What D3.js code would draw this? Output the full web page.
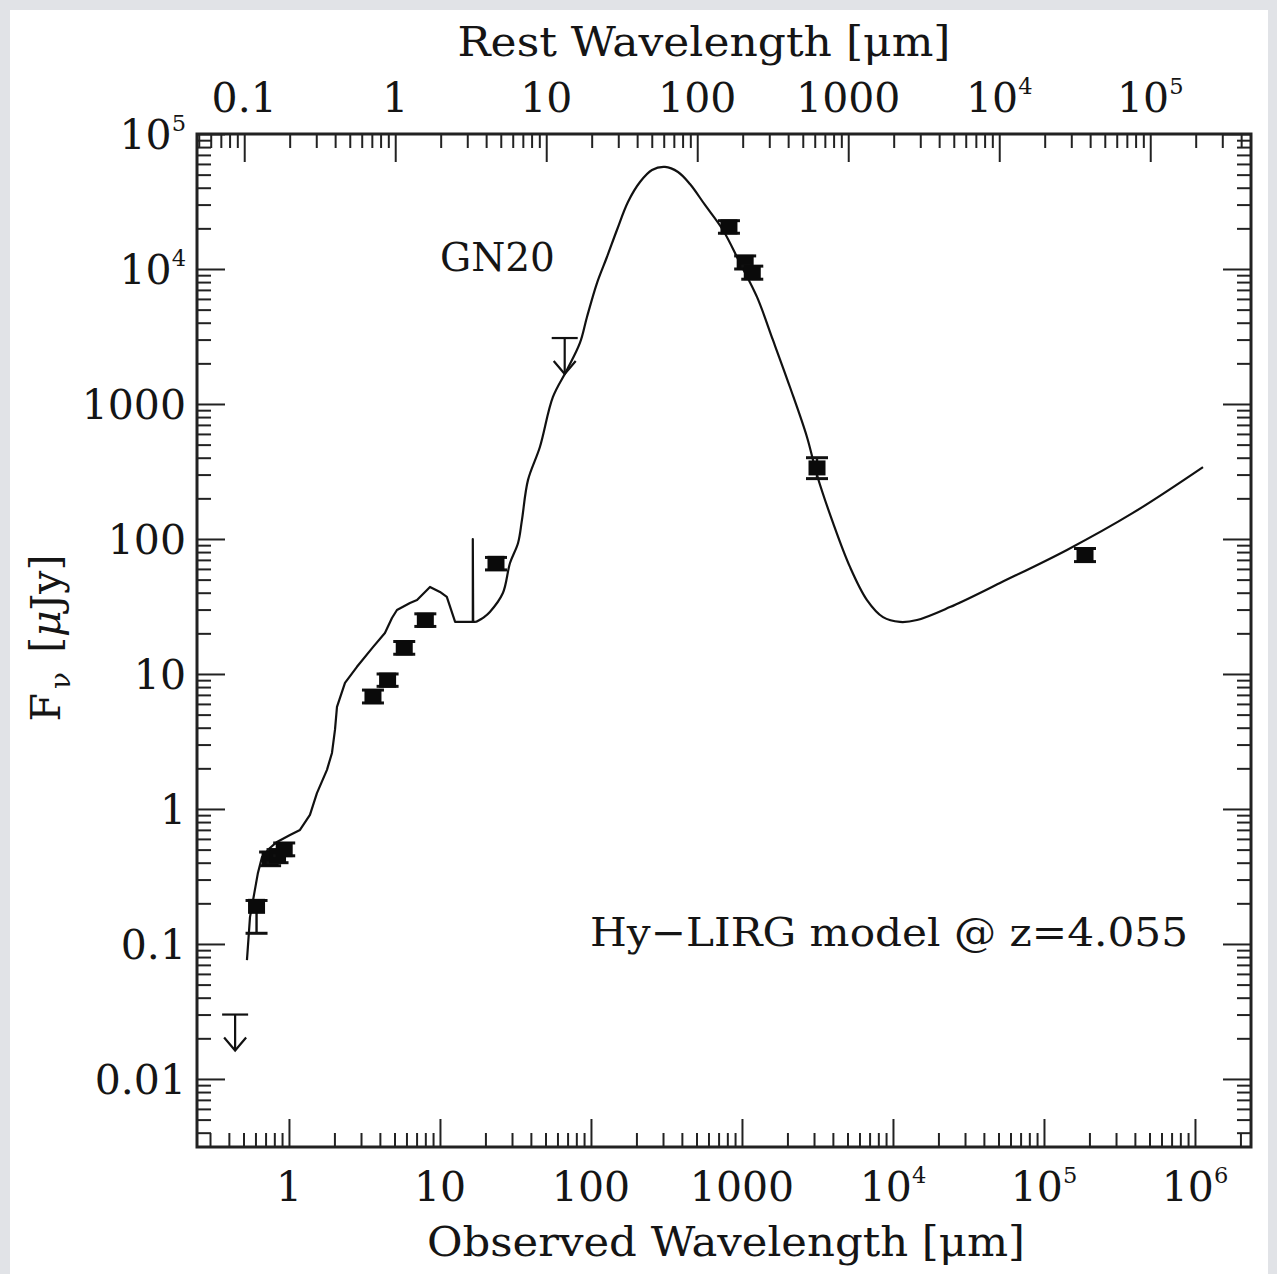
<!DOCTYPE html>
<html><head><meta charset="utf-8">
<script src="https://cdn.jsdelivr.net/npm/d3@7"></script>
<style>
html,body{margin:0;padding:0;background:#e1e3e7;}
svg{display:block;}
text{font-family:"DejaVu Serif",serif;fill:#151515;}
</style></head><body>
<svg id="chart" width="1277" height="1274"></svg>
<script>
// ---------------- data ----------------
const redshift = 4.055;

// Hy-LIRG model SED (observed wavelength [um], flux [uJy]) — stellar/PAH part (jagged)
const stellarWave = [0.527,0.552,0.623,0.663,0.748,0.833,1.016,1.183,1.377,1.532,1.785,1.927,2.017,2.08,2.35,2.82,3.60,4.32,4.81,5.19,6.33,7.05,8.59,10.0,11.1,12.6,15.8,16.5,16.5,16.6,17.3];
const stellarFlux = [0.076,0.158,0.336,0.441,0.514,0.570,0.642,0.699,0.903,1.31,1.95,2.60,3.85,5.70,8.58,11.3,15.8,20.1,26.0,29.8,33.6,35.3,44.1,40.5,37.2,24.3,24.3,24.3,100,24.3,24.3];
// dust + radio part (smooth)
const dustWave = [17.3,19.6,21.4,26.1,29.1,32.9,34.9,38.3,45.9,56.0,69.3,84.5,94.1,109.6,127.6,148.6,175.8,211.2,253.6,309.3,377,452.5,569,748,970,1257,1603,2078,2694,3139,4010,5190,6730,8590,11120,14420,23850,51150,1.42e5,3.88e5,1.13e6];
const dustFlux = [24.3,26.4,28.8,39.8,66.4,93.4,138,274,480,1127,1786,2831,4410,7870,12270,19450,31350,44060,54100,57000,52300,42600,29800,19450,11070,6210,2979,1336,570,298,131.5,62.1,35.3,26.4,24.3,25.1,31.3,47.2,83,156,341];

// photometry (detections)
const ptWave = [0.61, 0.75, 0.84, 0.93, 3.6, 4.5, 5.8, 8.0, 23.5, 820, 1050, 1170, 3140, 1.87e5];
const ptFlux = [0.19, 0.43, 0.45, 0.50, 6.8, 9.0, 15.6, 25, 66, 20500, 11200, 9400, 336, 76];
const ptLo   = [0.12, 0.38, 0.40, 0.45, 6.1, 8.1, 14.0, 22.5, 59, 18400, 10000, 8400, 280, 68];
const ptHi   = [0.21, 0.48, 0.50, 0.56, 7.6, 10.0, 17.4, 27.9, 73, 22800, 12500, 10500, 400, 85];

// upper limits
const limWave = [0.44, 67];
const limFlux = [0.030, 3080];

// ticks
const xTickValues = [1,10,100,1000,1e4,1e5,1e6];
const xTickLabels = ["1","10","100","1000","10^4","10^5","10^6"];
const topTickValues = [0.1,1,10,100,1000,1e4,1e5];
const topTickLabels = ["0.1","1","10","100","1000","10^4","10^5"];
const yTickValues = [0.01,0.1,1,10,100,1000,1e4,1e5];
const yTickLabels = ["0.01","0.1","1","10","100","1000","10^4","10^5"];

// ---------------- drawing ----------------
const svg = d3.select("#chart");
svg.append("rect").attr("x",10).attr("y",10).attr("width",1258).attr("height",1264).attr("fill","#fff");

const L=197, R=1251, T=134, B=1147;
const x = d3.scaleLog().domain([Math.pow(10,-0.609), Math.pow(10,6.371)]).range([L,R]);
const y = d3.scaleLog().domain([Math.pow(10,-2.504), 1e5]).range([B,T]);
const xr = d3.scaleLog().domain(x.domain().map(v=>v/(1+redshift))).range([L,R]);

function minors(scale){
  const [a,b] = scale.domain(); const out=[];
  for(let k=Math.floor(Math.log10(a)); k<=Math.ceil(Math.log10(b)); k++){
    for(let m=2;m<=9;m++){ const v=m*Math.pow(10,k); if(v>=a&&v<=b) out.push(v); }
  }
  return out;
}
const MAJ=28, MIN=14, axisColor="#222";

function styleAxis(g){
  g.select(".domain").remove();
  g.selectAll("line").attr("stroke",axisColor).attr("stroke-width",2);
  g.selectAll("text").remove();
}
svg.append("g").attr("transform",`translate(0,${B})`)
  .call(d3.axisBottom(x).tickValues(xTickValues).tickSize(-MAJ).tickSizeOuter(0)).call(styleAxis);
svg.append("g").attr("transform",`translate(0,${B})`)
  .call(d3.axisBottom(x).tickValues(minors(x)).tickSize(-MIN).tickSizeOuter(0)).call(styleAxis);
svg.append("g").attr("transform",`translate(0,${T})`)
  .call(d3.axisTop(xr).tickValues(topTickValues).tickSize(-MAJ).tickSizeOuter(0)).call(styleAxis);
svg.append("g").attr("transform",`translate(0,${T})`)
  .call(d3.axisTop(xr).tickValues(minors(xr)).tickSize(-MIN).tickSizeOuter(0)).call(styleAxis);
svg.append("g").attr("transform",`translate(${L},0)`)
  .call(d3.axisLeft(y).tickValues(yTickValues).tickSize(-MAJ).tickSizeOuter(0)).call(styleAxis);
svg.append("g").attr("transform",`translate(${L},0)`)
  .call(d3.axisLeft(y).tickValues(minors(y)).tickSize(-MIN).tickSizeOuter(0)).call(styleAxis);
svg.append("g").attr("transform",`translate(${R},0)`)
  .call(d3.axisRight(y).tickValues(yTickValues).tickSize(-MAJ).tickSizeOuter(0)).call(styleAxis);
svg.append("g").attr("transform",`translate(${R},0)`)
  .call(d3.axisRight(y).tickValues(minors(y)).tickSize(-MIN).tickSizeOuter(0)).call(styleAxis);

svg.append("rect").attr("x",L).attr("y",T).attr("width",R-L).attr("height",B-T)
  .attr("fill","none").attr("stroke",axisColor).attr("stroke-width",3);

// labels
const FS = 41;
function label(str, px, py, anchor){
  const t = svg.append("text").attr("x",px).attr("y",py).attr("text-anchor",anchor)
    .attr("font-size",FS);
  if(str.includes("^")){
    const [b,e] = str.split("^");
    t.append("tspan").text(b);
    t.append("tspan").text(e).attr("font-size",FS*0.55).attr("dy",-FS*0.45);
  } else t.text(str);
  return t;
}
xTickValues.forEach((v,i)=>label(xTickLabels[i], x(v), 1201, "middle"));
topTickValues.forEach((v,i)=>label(topTickLabels[i], xr(v), 112, "middle"));
yTickValues.forEach((v,i)=>label(yTickLabels[i], 186, y(v)+15, "end"));

// axis titles
svg.append("text").attr("x",726).attr("y",1256).attr("text-anchor","middle")
  .attr("font-size",41).attr("textLength",598).attr("lengthAdjust","spacingAndGlyphs")
  .text("Observed Wavelength [\u03bcm]");
svg.append("text").attr("x",704).attr("y",56).attr("text-anchor","middle")
  .attr("font-size",41).attr("textLength",493).attr("lengthAdjust","spacingAndGlyphs")
  .text("Rest Wavelength [\u03bcm]");
const yt = svg.append("text").attr("transform","translate(60,638) rotate(-90)")
  .attr("text-anchor","middle").attr("font-size",41);
yt.append("tspan").text("F");
yt.append("tspan").text("\u03bd").attr("font-size",28).attr("dy",10).attr("dx",4);
yt.append("tspan").text(" [").attr("dy",-10).attr("dx",6);
yt.append("tspan").text("\u03bc").attr("font-style","italic");
yt.append("tspan").text("Jy]");

// annotations
svg.append("text").attr("x",440).attr("y",271).attr("font-size",39).text("GN20");
svg.append("text").attr("x",590).attr("y",946).attr("font-size",39)
  .attr("textLength",598).attr("lengthAdjust","spacingAndGlyphs")
  .text("Hy\u2212LIRG model @ z=4.055");

// plot content
svg.append("clipPath").attr("id","clip").append("rect")
  .attr("x",L).attr("y",T).attr("width",R-L).attr("height",B-T);
const plot = svg.append("g").attr("clip-path","url(#clip)");

const stellar = stellarWave.map((w,i)=>[w, stellarFlux[i]]);
const dust = dustWave.map((w,i)=>[w, dustFlux[i]]);
plot.append("path").datum(stellar)
  .attr("d", d3.line().x(d=>x(d[0])).y(d=>y(d[1])))
  .attr("fill","none").attr("stroke","#111").attr("stroke-width",2.2).attr("stroke-linejoin","round");
plot.append("path").datum(dust)
  .attr("d", d3.line().x(d=>x(d[0])).y(d=>y(d[1])).curve(d3.curveCatmullRom.alpha(0.5)))
  .attr("fill","none").attr("stroke","#111").attr("stroke-width",2.2).attr("stroke-linejoin","round");

// detections
const SQW=17, SQH=15, CAP=22;
const pts = ptWave.map((w,i)=>({w, f:ptFlux[i], lo:ptLo[i], hi:ptHi[i]}));
const pg = plot.selectAll("g.pt").data(pts).join("g").attr("class","pt");
pg.append("line").attr("x1",d=>x(d.w)).attr("x2",d=>x(d.w)).attr("y1",d=>y(d.lo)).attr("y2",d=>y(d.hi))
  .attr("stroke","#111").attr("stroke-width",2.4);
pg.append("line").attr("x1",d=>x(d.w)-CAP/2).attr("x2",d=>x(d.w)+CAP/2).attr("y1",d=>y(d.lo)).attr("y2",d=>y(d.lo))
  .attr("stroke","#111").attr("stroke-width",3);
pg.append("line").attr("x1",d=>x(d.w)-CAP/2).attr("x2",d=>x(d.w)+CAP/2).attr("y1",d=>y(d.hi)).attr("y2",d=>y(d.hi))
  .attr("stroke","#111").attr("stroke-width",3);
pg.append("rect").attr("x",d=>x(d.w)-SQW/2).attr("y",d=>y(d.f)-SQH/2).attr("width",SQW).attr("height",SQH)
  .attr("fill","#0a0a0a");

// upper limits
const ARROW=36, HEAD=11;
const lims = limWave.map((w,i)=>({w, f:limFlux[i]}));
const lg = plot.selectAll("g.lim").data(lims).join("g").attr("class","lim")
  .attr("stroke","#111").attr("stroke-width",2.2).attr("fill","none");
lg.append("line").attr("x1",d=>x(d.w)-13).attr("x2",d=>x(d.w)+13).attr("y1",d=>y(d.f)).attr("y2",d=>y(d.f));
lg.append("line").attr("x1",d=>x(d.w)).attr("x2",d=>x(d.w)).attr("y1",d=>y(d.f)).attr("y2",d=>y(d.f)+ARROW);
lg.append("path").attr("d",d=>{const cx=x(d.w), cy=y(d.f)+ARROW; return `M${cx-HEAD},${cy-HEAD-2}L${cx},${cy}L${cx+HEAD},${cy-HEAD-2}`;});
</script>
</body></html>
